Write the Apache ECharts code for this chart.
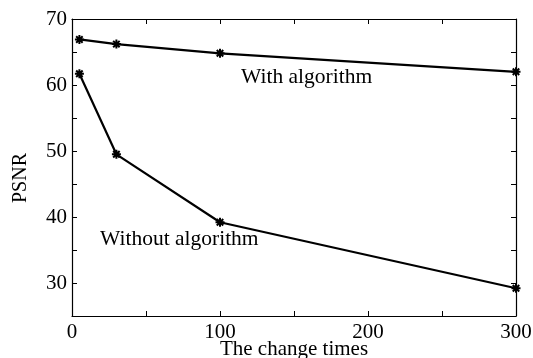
<!DOCTYPE html>
<html>
<head>
<meta charset="utf-8">
<script src="https://cdn.jsdelivr.net/npm/echarts@6/dist/echarts.min.js"></script>
<style>
  html, body { margin: 0; padding: 0; background: #fff; }
  #chart { width: 533px; height: 358px; }
</style>
</head>
<body>
<div id="chart"></div>
<script>
// Number of changes applied to the image
const changeTimes = [5, 30, 100, 300];
// PSNR with and without the algorithm
const psnrWith = [66.9, 66.2, 64.8, 62.0];
const psnrWithout = [61.7, 49.5, 39.2, 29.2];

const xTicks = [0, 100, 200, 300];
const yTicks = [30, 40, 50, 60, 70];

const FONT = '"Liberation Serif", "Times New Roman", serif';
const INK = '#000';

// asterisk-style marker
const STAR = 'path://M0,-5L0,5M-5,0L5,0M-3.6,-3.6L3.6,3.6M-3.6,3.6L3.6,-3.6';

function pairs(xs, ys) {
  return xs.map((x, i) => [x, ys[i]]);
}

const chart = echarts.init(document.getElementById('chart'), null, { renderer: 'canvas' });

const tickCommon = { show: true, inside: true, length: 5, lineStyle: { color: INK, width: 1 } };
const lineCommon = { show: true, onZero: false, lineStyle: { color: INK, width: 1.2 } };

const lineSeries = (name, ys) => ({
  name,
  type: 'line',
  data: pairs(changeTimes, ys),
  symbol: STAR,
  symbolSize: 9,
  showAllSymbol: true,
  lineStyle: { color: INK, width: 2.2 },
  itemStyle: { color: INK, borderColor: INK, borderWidth: 2 },
  emphasis: { disabled: true },
  animation: false,
  z: 3
});

chart.setOption({
  backgroundColor: '#fff',
  animation: false,
  grid: { left: 72, right: 17, top: 19, bottom: 42, containLabel: false, outerBoundsMode: 'none' },
  xAxis: [
    {
      type: 'value', min: 0, max: 300, interval: 50,
      position: 'bottom',
      axisLine: lineCommon,
      axisTick: tickCommon,
      splitLine: { show: false },
      axisLabel: {
        color: INK, fontFamily: FONT, fontSize: 21, margin: 6,
        formatter: v => (xTicks.includes(v) ? String(v) : '')
      },
      name: 'The change times',
      nameLocation: 'middle',
      nameGap: 23,
      nameMoveOverlap: false,
      nameTextStyle: { color: INK, fontFamily: FONT, fontSize: 21 }
    },
    {
      type: 'value', min: 0, max: 300, interval: 50,
      position: 'top',
      axisLine: lineCommon,
      axisTick: tickCommon,
      splitLine: { show: false },
      axisLabel: { show: false }
    }
  ],
  yAxis: [
    {
      type: 'value', min: 25, max: 70, interval: 5,
      position: 'left',
      axisLine: lineCommon,
      axisTick: tickCommon,
      splitLine: { show: false },
      axisLabel: {
        color: INK, fontFamily: FONT, fontSize: 21, margin: 5,
        formatter: v => (yTicks.includes(v) ? String(v) : '')
      }
    },
    {
      type: 'value', min: 25, max: 70, interval: 5,
      position: 'right',
      axisLine: lineCommon,
      axisTick: tickCommon,
      splitLine: { show: false },
      axisLabel: { show: false }
    }
  ],
  series: [
    lineSeries('With algorithm', psnrWith),
    lineSeries('Without algorithm', psnrWithout)
  ],
  graphic: [
    {
      // y-axis title, set a little below the axis midpoint
      type: 'text', x: 21, y: 178, rotation: Math.PI / 2,
      style: { text: 'PSNR', fill: INK, font: '20px ' + FONT, align: 'center', verticalAlign: 'middle' }
    },
    {
      type: 'text', left: 241, top: 66,
      style: { text: 'With algorithm', fill: INK, font: '21.5px ' + FONT }
    },
    {
      type: 'text', left: 100, top: 228,
      style: { text: 'Without algorithm', fill: INK, font: '21.5px ' + FONT }
    }
  ]
});
</script>
</body>
</html>
